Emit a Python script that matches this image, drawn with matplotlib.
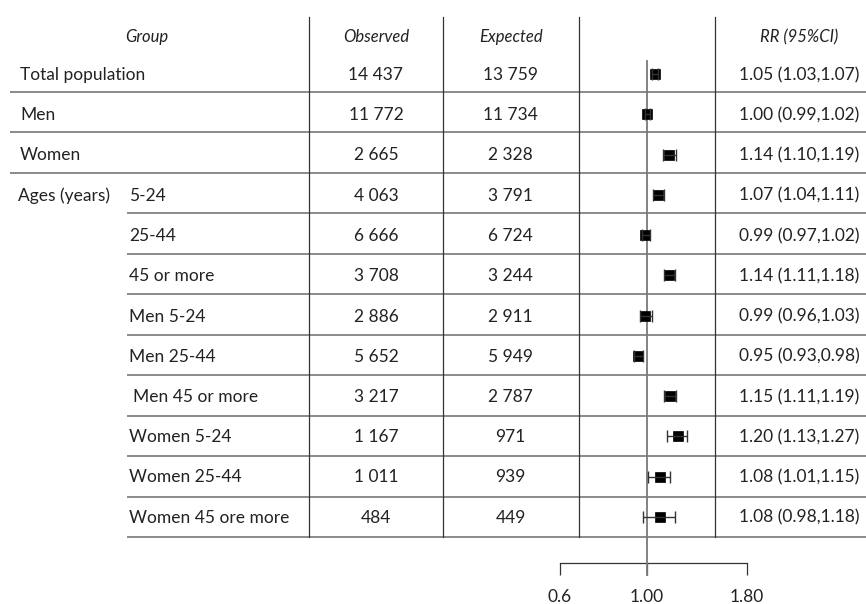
import matplotlib
matplotlib.use("Agg")
import matplotlib.pyplot as plt
import numpy as np

# ---------------- data ----------------
groups = ["Total population", "Men", "Women", "5-24", "25-44", "45 or more",
          "Men 5-24", "Men 25-44", "Men 45 or more", "Women 5-24",
          "Women 25-44", "Women 45 ore more"]
observed = ["14 437", "11 772", "2 665", "4 063", "6 666", "3 708",
            "2 886", "5 652", "3 217", "1 167", "1 011", "484"]
expected = ["13 759", "11 734", "2 328", "3 791", "6 724", "3 244",
            "2 911", "5 949", "2 787", "971", "939", "449"]
rr = np.array([1.05, 1.00, 1.14, 1.07, 0.99, 1.14, 0.99, 0.95, 1.15, 1.20, 1.08, 1.08])
lo = np.array([1.03, 0.99, 1.10, 1.04, 0.97, 1.11, 0.96, 0.93, 1.11, 1.13, 1.01, 0.98])
hi = np.array([1.07, 1.02, 1.19, 1.11, 1.02, 1.18, 1.03, 0.98, 1.19, 1.27, 1.15, 1.18])
headers = ["Group", "Observed", "Expected", "RR (95%CI)"]
ages_label = "Ages (years)"
tick_values = [0.6, 1.0, 1.8]
tick_labels = ["0.6", "1.00", "1.80"]

# ---------------- layout (pixels) ----------------
W, H = 866, 604
FONT = "Lato"
TXT = "#222222"
plt.rcParams['font.family'] = [FONT, 'DejaVu Sans']

fig = plt.figure(figsize=(W / 100, H / 100), dpi=100)
fig.patch.set_facecolor("white")
ax = fig.add_axes([0, 0, 1, 1])
ax.set_xlim(0, W)
ax.set_ylim(H, 0)
ax.axis("off")

n = len(groups)
row_c = [74 + 40.25 * i for i in range(n)]
line_y = [92 + 40.48 * k for k in range(n)]

vlines_x = [309, 443, 578.5, 715]
top_y, bot_y = 17, line_y[-1]

# horizontal rules
for k, y in enumerate(line_y):
    x0 = 10 if k < 3 else 127
    ax.plot([x0, W], [y, y], color="#8a8a8a", lw=1.4, solid_capstyle="butt")
# vertical rules
for x in vlines_x:
    ax.plot([x, x], [top_y, bot_y], color="#333333", lw=0.9)

# headers
hdr_x = [147, 376, 510.5, 799]
for hx, h in zip(hdr_x, headers):
    ax.text(hx, 37, h, ha="center", va="center", fontsize=12, style="italic",
            color=TXT)

# group labels and numbers
fs = 12.5
for i in range(n):
    y = row_c[i] + 1
    if i < 3:
        gx = 20
    elif groups[i] == "Men 45 or more":
        gx = 133
    else:
        gx = 129
    ax.text(gx, y, groups[i], ha="left", va="center", fontsize=fs, color=TXT)
    ax.text(376, y, observed[i], ha="center", va="center", fontsize=fs, color=TXT)
    ax.text(510.5, y, expected[i], ha="center", va="center", fontsize=fs, color=TXT)
    ax.text(799, y, f"{rr[i]:.2f} ({lo[i]:.2f},{hi[i]:.2f})", ha="center",
            va="center", fontsize=fs, color=TXT)
ax.text(18, row_c[3] + 1, ages_label, ha="left", va="center", fontsize=fs, color=TXT)

# ---------------- forest plot axes ----------------
px_per_ln = 170.0
x1 = 646.7
left = x1 + px_per_ln * np.log(tick_values[0])
right = x1 + px_per_ln * np.log(tick_values[-1])
axis_y = 563
axF = fig.add_axes([left / W, (H - axis_y) / H, (right - left) / W, axis_y / H])
axF.set_facecolor("none")
axF.set_xscale("log")
axF.set_xlim(tick_values[0], tick_values[-1])
axF.set_ylim(axis_y, 0)
for s in ["top", "left", "right"]:
    axF.spines[s].set_visible(False)
axF.spines["bottom"].set_color("#333333")
axF.spines["bottom"].set_linewidth(0.9)
axF.set_yticks([])
axF.xaxis.set_major_locator(matplotlib.ticker.FixedLocator(tick_values))
axF.xaxis.set_minor_locator(matplotlib.ticker.NullLocator())
axF.set_xticklabels(tick_labels)
axF.tick_params(axis="x", direction="out", length=8.5, width=0.9, color="#333333",
                pad=10, labelsize=12.5, labelcolor=TXT)

# reference line
axF.plot([1, 1], [61, 575], color="#7a7a7a", lw=1.3, clip_on=False, zorder=3)

# squares and CIs
axF.plot(rr, row_c, "s", ms=7.3, color="black", mew=0.5, zorder=4, clip_on=False)
axF.errorbar(rr, row_c, xerr=[rr - lo, hi - rr], fmt="none", ecolor="#333333",
             elinewidth=1.0, capsize=4, capthick=1.0, zorder=5, clip_on=False)

fig.savefig("out.png", dpi=100, facecolor="white")
